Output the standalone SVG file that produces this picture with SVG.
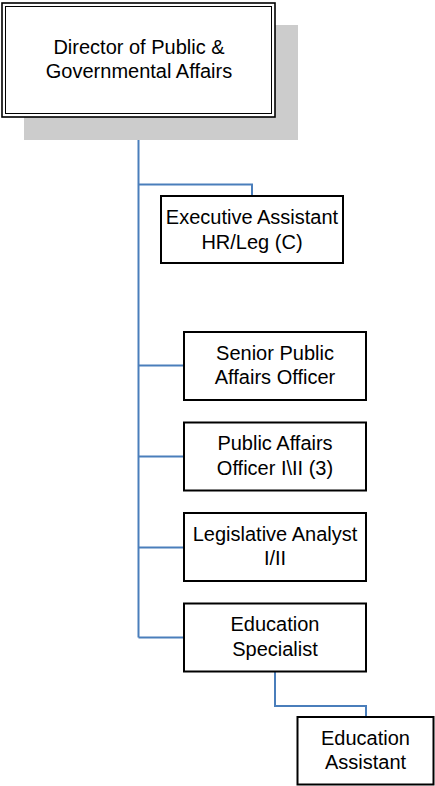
<svg xmlns="http://www.w3.org/2000/svg" width="435" height="786" viewBox="0 0 435 786">
<style>
.box{fill:#ffffff;stroke:#000000;stroke-width:2}
.conn{fill:none;stroke:#4a7ebb;stroke-width:2}
.t{font-family:"Liberation Sans",Arial,sans-serif;font-size:20px;fill:#000000;text-anchor:middle}
</style>
<rect width="435" height="786" fill="#ffffff"/>
<g id="connectors">
<path class="conn" d="M138.5,117 V637.5"/>
<path class="conn" d="M138.5,184.5 H252 V196"/>
<path class="conn" d="M138.5,365.5 H184"/>
<path class="conn" d="M138.5,456.5 H184"/>
<path class="conn" d="M138.5,547.5 H184"/>
<path class="conn" d="M138.5,637.5 H184"/>
<path class="conn" d="M275,672 V706 H366 V717"/>
</g>
<g id="director">
<rect x="24" y="25" width="274" height="115" fill="#cccccc"/>
<rect x="2" y="3" width="273" height="114" fill="#ffffff" stroke="#000" stroke-width="1.6"/>
<rect x="5.5" y="6.5" width="266" height="107" fill="none" stroke="#000" stroke-width="1"/>
<text class="t" x="139" y="54">Director of Public &amp;</text>
<text class="t" x="139" y="77.5">Governmental Affairs</text>
</g>
<g id="exec-assistant">
<rect class="box" x="161" y="196" width="182" height="67"/>
<text class="t" x="252" y="224">Executive Assistant</text>
<text class="t" x="252" y="249">HR/Leg (C)</text>
</g>
<g id="senior-pao">
<rect class="box" x="184" y="332" width="182" height="68"/>
<text class="t" x="275" y="359.5">Senior Public</text>
<text class="t" x="275" y="384">Affairs Officer</text>
</g>
<g id="pao">
<rect class="box" x="184" y="422.5" width="182" height="68"/>
<text class="t" x="275" y="450">Public Affairs</text>
<text class="t" x="275" y="474.5">Officer I\II (3)</text>
</g>
<g id="legislative">
<rect class="box" x="184" y="513" width="182" height="68"/>
<text class="t" x="275" y="540.5">Legislative Analyst</text>
<text class="t" x="275" y="565">I/II</text>
</g>
<g id="edu-specialist">
<rect class="box" x="184" y="603.5" width="182" height="68"/>
<text class="t" x="275" y="631">Education</text>
<text class="t" x="275" y="655.5">Specialist</text>
</g>
<g id="edu-assistant">
<rect class="box" x="297.5" y="717" width="136" height="67.5"/>
<text class="t" x="365.5" y="744.5">Education</text>
<text class="t" x="365.5" y="769">Assistant</text>
</g>
</svg>
